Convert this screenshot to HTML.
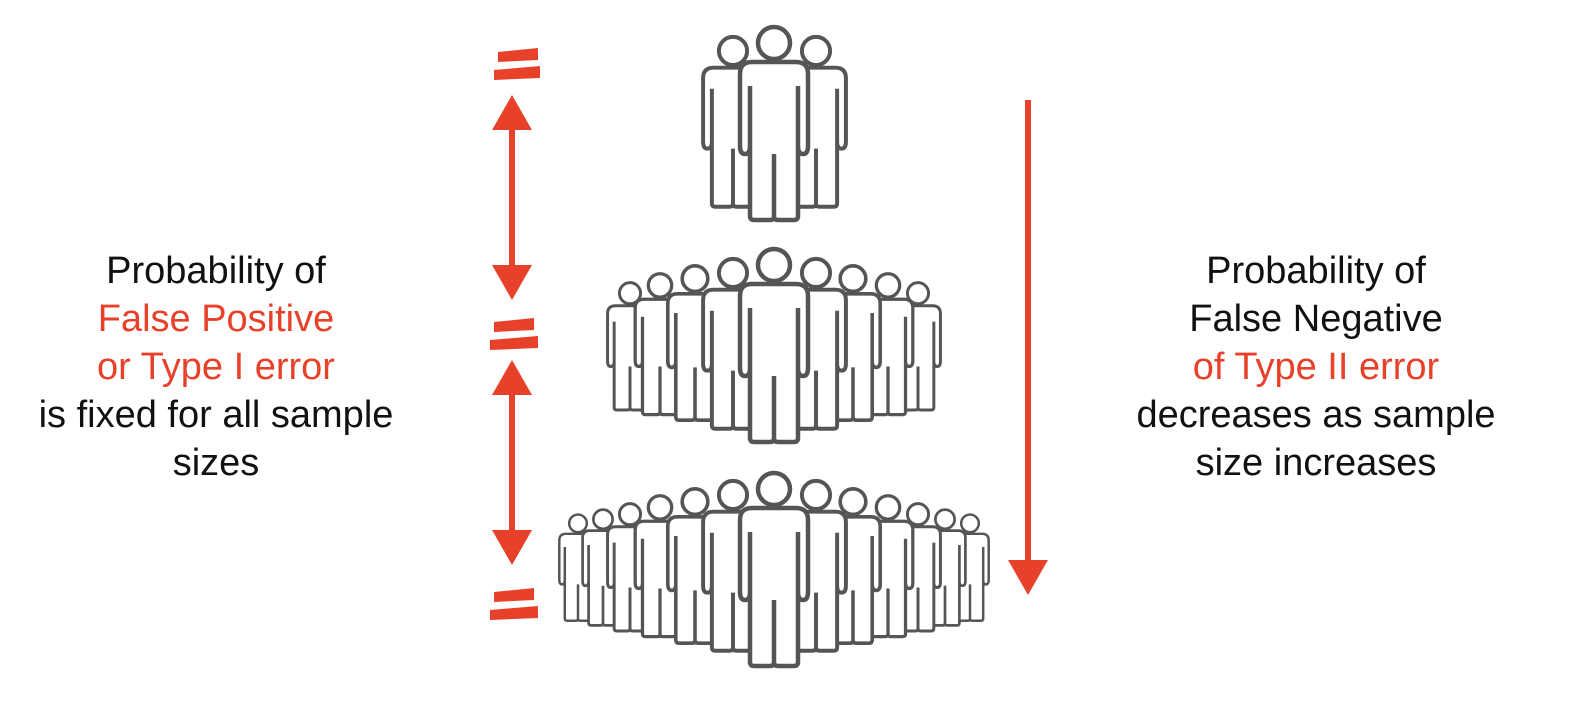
<!DOCTYPE html>
<html><head><style>
html,body{margin:0;padding:0;background:#fff;}
body{width:1590px;height:720px;overflow:hidden;position:relative;}
</style></head><body>
<svg width="1590" height="720" viewBox="0 0 1590 720" xmlns="http://www.w3.org/2000/svg">
<defs>
<g id="p">
<circle cx="0" cy="17" r="16" fill="#fff" stroke="#555" stroke-width="4.5"/>
<path d="M -22 36 H 22 Q 34 36 34 48 V 120 Q 34 128 29 128 Q 24 128 24 120 V 190 Q 24 194 20 194 H 4 Q 0 194 0 190 Q 0 194 -4 194 H -20 Q -24 194 -24 190 V 120 Q -24 128 -29 128 Q -34 128 -34 120 V 48 Q -34 36 -22 36 Z M 24 60 V 120 M -24 60 V 120 M 0 128 V 190" fill="#fff" stroke="#555" stroke-width="4.5" stroke-linejoin="round"/>
</g>
</defs>
<use href="#p" transform="translate(733,36) scale(0.88)"/>
<use href="#p" transform="translate(816,36) scale(0.88)"/>
<use href="#p" transform="translate(774,26)"/>
<use href="#p" transform="translate(630,282) scale(0.66)"/>
<use href="#p" transform="translate(918,282) scale(0.66)"/>
<use href="#p" transform="translate(660,273) scale(0.73)"/>
<use href="#p" transform="translate(888,273) scale(0.73)"/>
<use href="#p" transform="translate(695,265) scale(0.8)"/>
<use href="#p" transform="translate(853,265) scale(0.8)"/>
<use href="#p" transform="translate(733,258) scale(0.88)"/>
<use href="#p" transform="translate(816,258) scale(0.88)"/>
<use href="#p" transform="translate(774,248)"/>
<use href="#p" transform="translate(578,514) scale(0.55)"/>
<use href="#p" transform="translate(970,514) scale(0.55)"/>
<use href="#p" transform="translate(603,509) scale(0.6)"/>
<use href="#p" transform="translate(945,509) scale(0.6)"/>
<use href="#p" transform="translate(630,503) scale(0.66)"/>
<use href="#p" transform="translate(918,503) scale(0.66)"/>
<use href="#p" transform="translate(660,495) scale(0.73)"/>
<use href="#p" transform="translate(888,495) scale(0.73)"/>
<use href="#p" transform="translate(695,488) scale(0.8)"/>
<use href="#p" transform="translate(853,488) scale(0.8)"/>
<use href="#p" transform="translate(733,480) scale(0.88)"/>
<use href="#p" transform="translate(816,480) scale(0.88)"/>
<use href="#p" transform="translate(774,472)"/>
<g fill="#e8412a" stroke="none">
<polygon points="498,52 538,48 538,60 498,62"/>
<polygon points="494,70 540,66 540,78 494,80"/>
<polygon points="494,322 534,318 534,330 494,332"/>
<polygon points="490,340 538,336 538,348 490,350"/>
<polygon points="494,592 534,588 534,600 494,602"/>
<polygon points="490,610 538,606 538,618 490,620"/>
<polygon points="512,95 492,130 532,130"/>
<polygon points="512,300 492,265 532,265"/>
<polygon points="512,360 492,395 532,395"/>
<polygon points="512,565 492,530 532,530"/>
<polygon points="1028,595 1008,560 1048,560"/>
</g>
<g stroke="#e8412a" stroke-width="6">
<line x1="512" y1="125" x2="512" y2="270"/>
<line x1="512" y1="390" x2="512" y2="535"/>
<line x1="1028" y1="100" x2="1028" y2="565"/>
</g>
<g font-family="Liberation Sans, sans-serif" font-size="38" text-anchor="middle" fill="#111">
<text x="216" y="283">Probability of</text>
<text x="216" y="331" fill="#e8412a">False Positive</text>
<text x="216" y="379" fill="#e8412a">or Type I error</text>
<text x="216" y="427">is fixed for all sample</text>
<text x="216" y="475">sizes</text>
<text x="1316" y="283">Probability of</text>
<text x="1316" y="331">False Negative</text>
<text x="1316" y="379" fill="#e8412a">of Type II error</text>
<text x="1316" y="427">decreases as sample</text>
<text x="1316" y="475">size increases</text>
</g>
</svg>
</body></html>
